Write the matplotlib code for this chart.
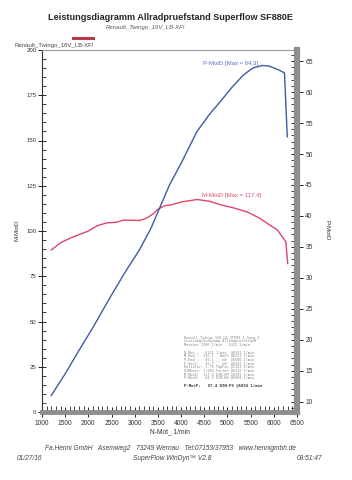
import matplotlib
matplotlib.use('Agg')
import matplotlib.pyplot as plt
from matplotlib.ticker import MultipleLocator

plt.rcParams['font.family'] = ['Liberation Sans', 'DejaVu Sans']

# torque curve M-MotD (Nm) vs engine speed
rpm_m = [1200, 1400, 1650, 2000, 2200, 2400, 2600, 2750, 3100, 3250, 3400, 3500,
         3650, 3800, 4000, 4340, 4600, 4850, 5100, 5430, 5700, 5900, 6080, 6260, 6300]
torque = [89.5, 93.5, 96.5, 100.0, 103.0, 104.5, 104.8, 106.0, 105.8, 107.0, 109.5, 112.0,
          114.0, 114.5, 116.0, 117.4, 116.5, 114.5, 113.0, 110.5, 107.0, 103.5, 100.5, 94.0, 82.0]

# power curve P-MotD (kW) vs engine speed
rpm_p = [1200, 1500, 1800, 2100, 2450, 2800, 3100, 3350, 3550, 3750, 4000, 4340,
         4600, 4850, 5100, 5350, 5550, 5750, 5900, 6100, 6230, 6290]
power = [11.0, 14.5, 18.3, 22.0, 26.6, 31.0, 34.5, 38.0, 41.5, 45.0, 48.5, 53.6,
         56.3, 58.5, 60.8, 62.8, 63.9, 64.3, 64.2, 63.6, 63.1, 52.8]

info_lines = ['Renault_Twingo_16V_LB-XFP09_1_Gang_2',
              'Leistungsdiagramm Allradpruefstand',
              'Messber 1200 1/min - 6321 1/min',
              '',
              'N-Mot_:   6321 1/min  @6321 1/min',
              'M-Rad_:  115.1 __Nm/h @6321 1/min',
              'P-Rad_:   49.1 ___kW  @5680 1/min',
              'P-Verl:   15.7 ___kW  @6321 1/min',
              'DeltaTer: 1.76 TopFac @1133 1/min',
              'DINKorr: 1.003 Factor @6319 1/min',
              'M-MotD:  117.4 DIN-NM @4393 1/min',
              'P-MotD:   64.3 DIN-KW @5894 1/min']
info_last = 'P-MotP:   87.4 DIN-PS @5894 1/min'

W, H = 352, 480


def px(x, y):
    return x / W, 1 - y / H


fig = plt.figure(figsize=(W / 100, H / 100), dpi=100)
fig.patch.set_facecolor('white')
ax = fig.add_axes([42 / W, 68 / H, 255 / W, 362 / H])
ax2 = ax.twinx()

ax.plot(rpm_m, torque, color='#e2456a', lw=1.0)
ax2.plot(rpm_p, power, color='#3d5c9e', lw=1.0)

ax.set_xlim(1000, 6500)
ax.set_ylim(0, 200)
ax2.set_ylim(8.33, 66.8)

ax.xaxis.set_major_locator(MultipleLocator(500))
ax.xaxis.set_minor_locator(MultipleLocator(100))
ax.yaxis.set_major_locator(MultipleLocator(25))
ax.yaxis.set_minor_locator(MultipleLocator(5))
ax2.yaxis.set_major_locator(MultipleLocator(5))
ax2.yaxis.set_minor_locator(MultipleLocator(1))

for a in (ax, ax2):
    for s in a.spines.values():
        s.set_visible(False)
ax.spines['left'].set_visible(True)
ax.spines['left'].set_color('#333333')
ax.spines['left'].set_linewidth(0.8)
ax.spines['bottom'].set_visible(True)
ax.spines['bottom'].set_color('#8e8e8e')
ax.spines['bottom'].set_linewidth(3.5)
ax.spines['top'].set_visible(True)
ax.spines['top'].set_color('#9a9a9a')
ax.spines['top'].set_linewidth(0.8)
ax2.spines['right'].set_visible(True)
ax2.spines['right'].set_color('#8e8e8e')
ax2.spines['right'].set_linewidth(4.5)

ax.tick_params(axis='x', which='major', direction='inout', length=7, width=0.7,
               color='#222222', labelsize=4.8, labelcolor='#333333', pad=2)
ax.tick_params(axis='x', which='minor', direction='in', length=4, width=0.6, color='#222222')
ax.tick_params(axis='y', which='major', direction='inout', length=6, width=0.7,
               color='#222222', labelsize=4.3, labelcolor='#333333', pad=1)
ax.tick_params(axis='y', which='minor', direction='in', length=3, width=0.6, color='#222222')
ax2.tick_params(axis='y', which='major', direction='inout', length=9, width=0.7,
                color='#222222', labelsize=4.8, labelcolor='#333333', pad=1.5)
ax2.tick_params(axis='y', which='minor', direction='in', length=4, width=0.6, color='#222222')

# headers
fig.text(*px(170, 17), 'Leistungsdiagramm Allradpruefstand Superflow SF880E',
         ha='center', va='center', fontsize=6.6, fontweight='bold', color='#262626')
fig.text(*px(145, 27), 'Renault_Twingo_16V_LB-XF!', ha='center', va='center',
         fontsize=4.3, style='italic', color='#555555')
fig.add_artist(plt.Line2D([73 / W, 93 / W], [1 - 38 / H, 1 - 38 / H],
                          color='#b03c4c', lw=2.2))
fig.text(*px(15, 46), 'Renault_Twingo_16V_LB-XF!', ha='left', va='center',
         fontsize=4.3, color='#444444')

# axis labels
fig.text(*px(17, 230), 'M-MotD', rotation=90, ha='center', va='center',
         fontsize=4.3, color='#333333')
fig.text(*px(327, 230), 'P-MotD', rotation=270, ha='center', va='center',
         fontsize=4.3, color='#333333')
fig.text(*px(170, 432), 'N-Mot_ 1/min', ha='center', va='center',
         fontsize=4.8, color='#333333')

# curve annotations
fig.text(*px(231, 63), 'P-MotD [Max = 64.3]', ha='center', va='center',
         fontsize=4.3, color='#5570b0')
fig.text(*px(232, 196), 'M-MotD [Max = 117.4]', ha='center', va='center',
         fontsize=4.3, color='#e0506e')

# info box
for i, line in enumerate(info_lines):
    fig.text(*px(184, 337.5 + i * 3.65), line, ha='left', va='center',
             fontsize=2.6, family='DejaVu Sans Mono', color='#8a8a8a')
fig.text(*px(184, 385), info_last, ha='left', va='center',
         fontsize=2.8, family='DejaVu Sans Mono', fontweight='bold', color='#333333')

# footer
fig.text(*px(170, 448), 'Fa.Henni GmbH   Asemweg2   73249 Wernau   Tel:07153/37953   www.hennigmbh.de',
         ha='center', va='center', fontsize=4.8, style='italic', color='#444444')
fig.text(*px(17, 458), '01/27/16', ha='left', va='center', fontsize=4.8,
         style='italic', color='#444444')
fig.text(*px(172, 458), 'SuperFlow WinDyn\u2122 V2.8', ha='center', va='center',
         fontsize=4.8, style='italic', color='#444444')
fig.text(*px(322, 458), '09:51:47', ha='right', va='center', fontsize=4.8,
         style='italic', color='#444444')

fig.savefig('out.png', dpi=100, facecolor='white')
